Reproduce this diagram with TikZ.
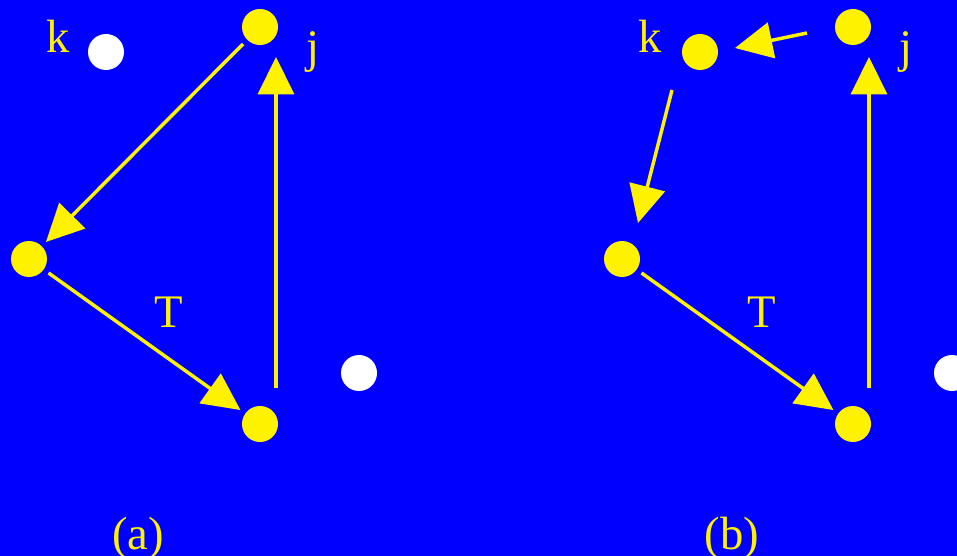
\documentclass[tikz,border=0pt]{standalone}
\usepackage{fontspec}
\setmainfont{Liberation Serif}
\usetikzlibrary{arrows.meta}
\begin{document}
\begin{tikzpicture}[x=0.75pt,y=-0.75pt,font=\fontsize{35}{40}\selectfont,
 pt/.style={circle,fill=yellow,minimum size=27pt,inner sep=0pt,outer sep=4.5pt},
 wpt/.style={pt,fill=white},
 lbl/.style={text=yellow,inner sep=0pt},
 arr/.style={yellow,line width=2.6pt,-{Triangle[length=28pt,width=27pt]}}]
\fill[blue] (0,0) rectangle (957,556);
\useasboundingbox (0,0) rectangle (957,556);
% Fall (a)
\node[pt] (ja) at (260,27) {}; \node[wpt] (ka) at (106,52) {};
\node[pt] (ia) at (29,259) {}; \node[pt] (ma) at (260,424) {};
\node[wpt] (wa) at (359,373) {};
\node[lbl] (lka) at (58,36) {k}; \node[lbl] (lja) at (313,52) {j};
\node[lbl] (ta) at (169,312) {T}; \node[lbl] (capa) at (138,538) {(a)};
\draw[arr] (ja) -- (ia);
\draw[arr] (ia) -- (ma);
\draw[arr] ([shift={(16,-36)}]ma.center) -- ([shift={(16,30)}]ja.center);
% Fall (b)
\node[pt] (jb) at (853,27) {}; \node[pt] (kb) at (700,52) {};
\node[pt] (ib) at (622,259) {}; \node[pt] (mb) at (853,424) {};
\node[wpt] (wb) at (952,373) {};
\node[lbl] (lkb) at (650,36) {k}; \node[lbl] (ljb) at (906,52) {j};
\node[lbl] (tb) at (762,312) {T}; \node[lbl] (capb) at (732,538) {(b)};
\draw[arr] ([shift={(-46,6)}]jb.center) -- ([shift={(35,-4)}]kb.center);
\draw[arr] ([shift={(-28,38)}]kb.center) -- ([shift={(16,-36)}]ib.center);
\draw[arr] (ib) -- (mb);
\draw[arr] ([shift={(16,-36)}]mb.center) -- ([shift={(16,30)}]jb.center);
\end{tikzpicture}
\end{document}
